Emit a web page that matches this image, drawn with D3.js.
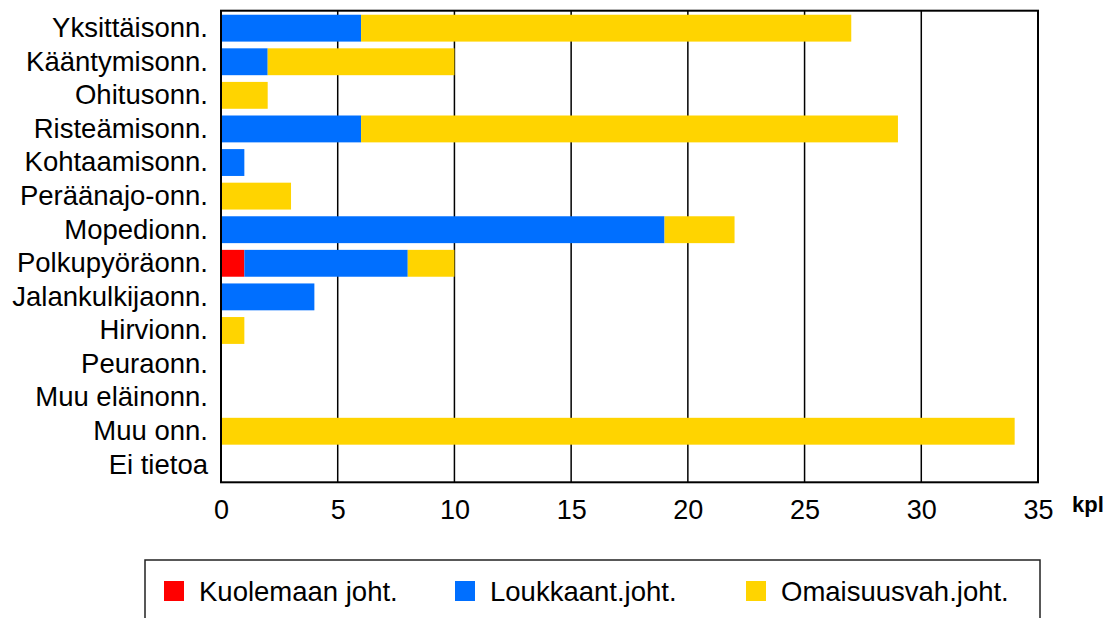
<!DOCTYPE html>
<html>
<head>
<meta charset="utf-8">
<script src="https://cdn.jsdelivr.net/npm/d3@7"></script>
<style>
  body { margin: 0; background: #fff; }
  svg { display: block; font-family: "Liberation Sans", Arial, sans-serif; }
</style>
</head>
<body>
<svg id="chart" width="1119" height="618"></svg>
<script>
  // data
  var categories = ["Yksittäisonn.", "Kääntymisonn.", "Ohitusonn.", "Risteämisonn.", "Kohtaamisonn.",
    "Peräänajo-onn.", "Mopedionn.", "Polkupyöräonn.", "Jalankulkijaonn.", "Hirvionn.",
    "Peuraonn.", "Muu eläinonn.", "Muu onn.", "Ei tietoa"];
  var kuolemaan = [0, 0, 0, 0, 0, 0, 0, 1, 0, 0, 0, 0, 0, 0];
  var loukkaant = [6, 2, 0, 6, 1, 0, 19, 7, 4, 0, 0, 0, 0, 0];
  var omaisuus  = [21, 8, 2, 23, 0, 3, 3, 2, 0, 1, 0, 0, 34, 0];
  var seriesNames = ["Kuolemaan joht.", "Loukkaant.joht.", "Omaisuusvah.joht."];
  var seriesColors = ["#ff0000", "#006fff", "#ffd400"];
  var xTicks = [0, 5, 10, 15, 20, 25, 30, 35];

  (function () {
    "use strict";
    var svg = d3.select("#chart");
    var plotLeft = 221, plotRight = 1038, plotTop = 10.7, plotBottom = 482.3;

    var x = d3.scaleLinear().domain([0, 35]).range([plotLeft, plotRight]);
    var y = d3.scaleBand().domain(categories).range([plotTop, plotBottom])
        .paddingInner(0.2).paddingOuter(0.12);

    var rows = categories.map(function(c, i) {
      return { cat: c, k: kuolemaan[i], l: loukkaant[i], o: omaisuus[i] };
    });
    var stack = d3.stack().keys(["k", "l", "o"])(rows);

    // grid lines
    svg.append("g").selectAll("line")
      .data(xTicks.slice(1, -1))
      .enter().append("line")
        .attr("x1", function(d) { return x(d); })
        .attr("x2", function(d) { return x(d); })
        .attr("y1", plotTop).attr("y2", plotBottom)
        .attr("stroke", "#000").attr("stroke-width", 1.5);

    // bars
    svg.append("g").selectAll("g")
      .data(stack)
      .enter().append("g")
        .attr("fill", function(d, i) { return seriesColors[i]; })
      .selectAll("rect")
      .data(function(d) { return d; })
      .enter().append("rect")
        .attr("x", function(d) { return x(d[0]); })
        .attr("y", function(d) { return y(d.data.cat); })
        .attr("width", function(d) { return x(d[1]) - x(d[0]); })
        .attr("height", y.bandwidth());

    // frame
    svg.append("rect")
      .attr("x", plotLeft).attr("y", plotTop)
      .attr("width", plotRight - plotLeft).attr("height", plotBottom - plotTop)
      .attr("fill", "none").attr("stroke", "#000").attr("stroke-width", 2);

    // y axis labels
    var yAxis = svg.append("g")
      .attr("transform", "translate(" + plotLeft + ",0)")
      .call(d3.axisLeft(y).tickSize(0).tickPadding(13));
    yAxis.select(".domain").remove();
    yAxis.selectAll("text")
      .attr("font-size", "27.5px").attr("font-family", "Liberation Sans, Arial, sans-serif")
      .attr("fill", "#000");

    // x axis labels
    var xAxis = svg.append("g")
      .attr("transform", "translate(0," + plotBottom + ")")
      .call(d3.axisBottom(x).tickValues(xTicks).tickSize(0).tickPadding(17.5));
    xAxis.select(".domain").remove();
    xAxis.selectAll("text")
      .attr("font-size", "27px").attr("font-family", "Liberation Sans, Arial, sans-serif")
      .attr("fill", "#000");

    svg.append("text")
      .attr("x", 1072).attr("y", 512)
      .attr("font-size", "22px").attr("font-weight", "bold")
      .text("kpl");

    // legend
    svg.append("rect")
      .attr("x", 145).attr("y", 560).attr("width", 895).attr("height", 80)
      .attr("fill", "none").attr("stroke", "#222").attr("stroke-width", 1.5);

    var legendX = [164, 455, 746];
    var legend = svg.append("g").selectAll("g")
      .data(seriesNames)
      .enter().append("g")
        .attr("transform", function(d, i) { return "translate(" + legendX[i] + ",581)"; });
    legend.append("rect")
      .attr("width", 20).attr("height", 20)
      .attr("fill", function(d, i) { return seriesColors[i]; });
    legend.append("text")
      .attr("x", 35).attr("y", 20)
      .attr("font-size", "27.5px")
      .text(function(d) { return d; });
  }());
</script>
</body>
</html>
